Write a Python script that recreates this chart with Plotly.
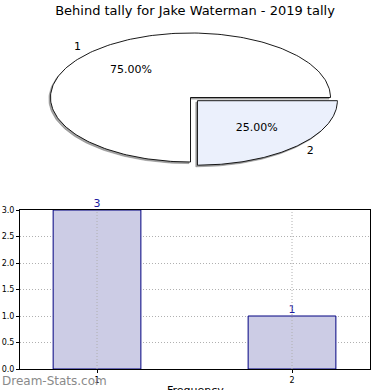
import numpy as np
import plotly.graph_objects as go

title = "Behind tally for Jake Waterman - 2019 tally"
categories = ["1", "2"]
values = [3, 1]
pie_colors = ["#ffffff", "#ebf0fc"]
explode = [0.0, 0.07]
yticks = [0.0, 0.5, 1.0, 1.5, 2.0, 2.5, 3.0]
x_title = "Frequency"

# pie geometry (pixel-like coordinates of the top panel)
cx, cy, ra, rb = 190.5, 97.5, 140.0, 64.5

fig = go.Figure()

total = sum(values)
start = 0.0
wedges = []
for v, col, ex in zip(values, pie_colors, explode):
    span = 360.0 * v / total
    t = np.radians(np.linspace(start, start + span, 200))
    mid = np.radians(start + span / 2)
    ox = cx + ex * ra * np.cos(mid)
    oy = cy - ex * rb * np.sin(mid)
    xs = np.concatenate([[ox], ox + ra * np.cos(t), [ox]])
    ys = np.concatenate([[oy], oy - rb * np.sin(t), [oy]])
    wedges.append((xs, ys, col, mid, ox, oy, v))
    start += span

# shadows
for xs, ys, col, mid, ox, oy, v in wedges:
    fig.add_trace(go.Scatter(x=xs - 1.6, y=ys + 1.6, mode="lines", fill="toself",
                             fillcolor="rgba(90,90,90,0.55)", line=dict(width=1.0, color="rgba(120,120,120,0.5)"),
                             xaxis="x2", yaxis="y2", hoverinfo="skip", showlegend=False))
for xs, ys, col, mid, ox, oy, v in wedges:
    fig.add_trace(go.Scatter(x=xs, y=ys, mode="lines", fill="toself", fillcolor=col,
                             line=dict(width=0.9, color="#000000"),
                             xaxis="x2", yaxis="y2", hoverinfo="skip", showlegend=False))

for (xs, ys, col, mid, ox, oy, v), cat in zip(wedges, categories):
    pct = f"{100.0 * v / total:.2f}%"
    fig.add_trace(go.Scatter(
        x=[ox + 0.6 * ra * np.cos(mid), ox + 1.1 * ra * np.cos(mid) + (4 if np.cos(mid) > 0 else -4)],
        y=[oy - 0.6 * rb * np.sin(mid), oy - 1.1 * rb * np.sin(mid)],
        mode="text", text=[pct, cat], textposition="middle center",
        textfont=dict(family="DejaVu Sans", size=11, color="#000000"),
        xaxis="x2", yaxis="y2", hoverinfo="skip", showlegend=False))

# bar chart
fig.add_trace(go.Bar(
    x=[int(c) for c in categories], y=values, width=0.45,
    marker=dict(color="#ccccE5", line=dict(color="#000080", width=1)),
    showlegend=False, xaxis="x", yaxis="y", hoverinfo="skip"))
fig.add_trace(go.Scatter(
    x=[int(c) for c in categories], y=values, mode="text",
    text=[str(v) for v in values], textposition="top center",
    textfont=dict(family="DejaVu Sans", size=11, color="#1a1aa0"),
    cliponaxis=False, showlegend=False, xaxis="x", yaxis="y", hoverinfo="skip"))

for c in categories:
    fig.add_shape(type="line", xref="x", yref="y", x0=int(c), x1=int(c), y0=0, y1=3.0,
                  line=dict(color="#b0b0b0", width=1, dash="1px,2px"), layer="above")

fig.update_layout(
    width=390, height=390, margin=dict(l=0, r=0, t=0, b=0, autoexpand=False),
    paper_bgcolor="white", plot_bgcolor="white",
    title=dict(text=title, x=0.5, xanchor="center", y=1 - 10 / 390, yanchor="middle",
               font=dict(family="DejaVu Sans", size=13, color="#000000")),
    xaxis=dict(domain=[20 / 390, 370 / 390], range=[0.605, 2.4], tickvals=[1, 2],
               ticktext=categories, ticks="outside", ticklen=3, tickcolor="#000",
               showline=True, linecolor="#000", linewidth=1, mirror=True,
               showgrid=False, zeroline=False, automargin=False,
               tickfont=dict(family="DejaVu Sans", size=8, color="#000"),
               anchor="y"),
    yaxis=dict(domain=[1 - 369 / 390, 1 - 210 / 390], range=[0, 3.0], tickvals=yticks,
               ticktext=[f"{t:.1f}" for t in yticks], ticks="outside", ticklen=3, tickcolor="#000",
               showline=True, linecolor="#000", linewidth=1, mirror=True, automargin=False,
               showgrid=True, gridcolor="#b0b0b0", griddash="1px,2px", gridwidth=1, zeroline=False,
               tickfont=dict(family="DejaVu Sans", size=8, color="#000"), anchor="x"),
    xaxis2=dict(domain=[0, 1], range=[0, 390], visible=False, anchor="y2"),
    yaxis2=dict(domain=[0.5, 1], range=[195, 0], visible=False, anchor="x2"),
    annotations=[
        dict(text="Dream-Stats.com", xref="paper", yref="paper", x=0, y=1 - 381 / 390,
             xanchor="left", yanchor="middle", showarrow=False,
             font=dict(family="DejaVu Sans", size=12, color="#8a8a8a")),
        dict(text=x_title, xref="paper", yref="paper", x=195 / 390, y=1 - 382 / 390,
             xanchor="center", yanchor="top", showarrow=False,
             font=dict(family="DejaVu Sans", size=11, color="#000")),
    ],
)

fig.write_html("out.html", config={"displayModeBar": False},
               post_script="document.body.style.margin='0';document.body.style.overflow='hidden';")
